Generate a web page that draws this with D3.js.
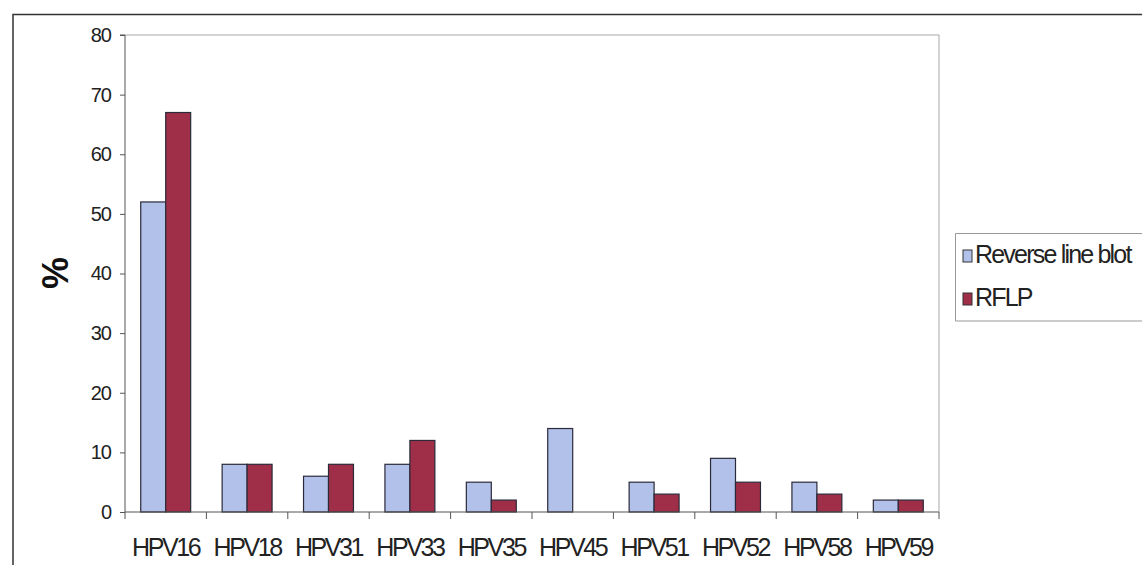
<!DOCTYPE html>
<html><head><meta charset="utf-8">
<script src="https://cdn.jsdelivr.net/npm/d3@7"></script>
<style>body{margin:0;background:#fff}svg{display:block}</style>
</head><body>
<script>
const categories = ["HPV16","HPV18","HPV31","HPV33","HPV35","HPV45","HPV51","HPV52","HPV58","HPV59"];
const seriesNames = ["Reverse line blot","RFLP"];
const reverseLineBlot = [52, 8, 6, 8, 5, 14, 5, 9, 5, 2];
const rflp = [67, 8, 8, 12, 2, 0, 3, 5, 3, 2];
const yTicks = [0,10,20,30,40,50,60,70,80];
const colors = ["#b1c1e9", "#9f2f48"];

(function(){
const W = 1142, H = 565;
const svg = d3.select("body").append("svg").attr("width", W).attr("height", H);
const font = "'Liberation Sans', Arial, sans-serif";

// outer frame
svg.append("path").attr("d", `M13,${H} L13,14.5 L${W},14.5`).attr("fill","none").attr("stroke","#333").attr("stroke-width",1.5);

const pl = 125, pr = 939, pt = 35, pb = 512;
const x = d3.scaleBand().domain(categories).range([pl, pr]).paddingInner(0).paddingOuter(0);
const inner = d3.scaleBand().domain(seriesNames).range([0, x.bandwidth()]).paddingInner(0).paddingOuter(0.63);
const y = d3.scaleLinear().domain([0, 80]).range([pb, pt]);

// plot area border (gray)
svg.append("path").attr("d", `M${pl},${pt} L${pr},${pt} L${pr},${pb}`).attr("fill","none").attr("stroke","#a8a8a8").attr("stroke-width",1);

const data = categories.map((c,i)=>({cat:c, vals:[reverseLineBlot[i], rflp[i]]}));
const g = svg.append("g");
data.forEach(d=>{
  d.vals.forEach((v,j)=>{
    if (v <= 0) return;
    g.append("rect")
      .attr("x", x(d.cat) + inner(seriesNames[j]))
      .attr("y", y(v))
      .attr("width", inner.bandwidth())
      .attr("height", y(0) - y(v))
      .attr("fill", colors[j])
      .attr("stroke", "#2a2a3a")
      .attr("stroke-width", 1.2);
  });
});

// y axis
const yAxis = d3.axisLeft(y).tickValues(yTicks).tickSize(5).tickPadding(9);
const ya = svg.append("g").attr("transform", `translate(${pl},0)`).call(yAxis);
ya.select(".domain").attr("stroke","#555").attr("d", `M-5,${pt}H0V${pb}`);
ya.selectAll(".tick line").attr("stroke","#555");
ya.selectAll("text").attr("font-family", font).attr("font-size", 20).attr("fill","#222").attr("letter-spacing","-1px");

// x axis
const xa = svg.append("g").attr("transform", `translate(0,${pb})`).call(d3.axisBottom(x).tickSize(0).tickPadding(26));
xa.select(".domain").attr("stroke","#555").attr("d", `M${pl},0H${pr}`);
xa.selectAll("text").attr("font-family", font).attr("font-size", 25).attr("fill","#222").attr("letter-spacing","-2.4px");
// category boundary ticks
const bounds = categories.map(c=>x(c)).concat([pr]);
svg.append("g").selectAll("line").data(bounds).join("line")
  .attr("x1", d=>d).attr("x2", d=>d).attr("y1", pb).attr("y2", pb+7)
  .attr("stroke","#555");

// y label
svg.append("text").attr("transform", `translate(68,273) rotate(-90)`)
  .attr("text-anchor","middle").attr("font-family", font).attr("font-weight","bold")
  .attr("font-size", 36).attr("fill","#111").text("%");

// legend
svg.append("path").attr("d", `M${W},233.5 L955.5,233.5 L955.5,321 L${W},321`).attr("fill","none").attr("stroke","#999").attr("stroke-width",1);
seriesNames.forEach((s,i)=>{
  const yy = 263 + i*43;
  svg.append("rect").attr("x", 963).attr("y", yy-13).attr("width", 9).attr("height", 12)
    .attr("fill", colors[i]).attr("stroke","#333").attr("stroke-width",1);
  svg.append("text").attr("x", 975).attr("y", yy).attr("font-family", font).attr("font-size", 25)
    .attr("fill","#222").attr("letter-spacing","-1.8px").text(s);
});
})();
</script>
</body></html>
